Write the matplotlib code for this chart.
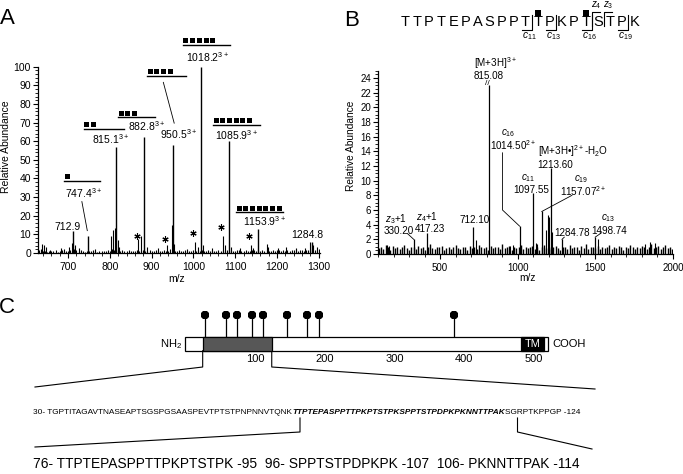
import matplotlib
matplotlib.use("Agg")
import matplotlib.pyplot as plt
from matplotlib.ticker import MultipleLocator
from matplotlib.patches import Rectangle
from matplotlib import font_manager

plt.rcParams['font.family'] = ['Liberation Sans', 'DejaVu Sans']
plt.rcParams['mathtext.fontset'] = 'custom'
plt.rcParams['mathtext.rm'] = 'Liberation Sans'
plt.rcParams['mathtext.it'] = 'Liberation Sans:italic'
plt.rcParams['mathtext.bf'] = 'Liberation Sans:bold'

# ---------------- data ----------------
# panel A : labelled peaks
a_mz = [712.9, 747.4, 815.1, 882.8, 950.5, 1018.2, 1085.9, 1153.9, 1284.8]
a_int = [12, 9, 57, 62.5, 58, 100, 60, 13, 6]
# glycoform ions (number of HexNAc squares)
a_gly_mz = [747.4, 815.1, 882.8, 950.5, 1018.2, 1085.9, 1153.9]
a_gly_n = [1, 2, 3, 4, 5, 6, 7]
# other peaks
a_minor_mz = [637, 642, 646, 657, 682, 691, 703, 709, 717, 727, 765, 803, 808, 812, 819, 823,
              868, 875, 888, 916, 936, 948, 954, 984, 1004, 1012, 1024, 1044, 1070, 1076, 1090,
              1112, 1137, 1142, 1176, 1179, 1202, 1222, 1246, 1266, 1279, 1283, 1287, 1295]
a_minor_int = [4.8, 4.1, 3.0, 1.6, 2.5, 2.2, 3.0, 5.2, 4.3, 2.5, 2.0, 9.1, 12.4, 13.3, 7.0, 3.4,
               7.3, 9.1, 3.0, 2.5, 4.3, 15.0, 5.0, 2.0, 6.1, 3.4, 4.3, 2.5, 9.1, 4.3, 3.4,
               2.5, 4.3, 2.5, 4.8, 3.4, 2.5, 3.4, 2.5, 2.5, 6.1, 5.5, 4.3, 3.0]
# baseline noise, one value every 5 m/z from 630
a_noise_start, a_noise_step = 630, 5
a_noise = [1.5, 2.0, 1.2, 1.0, 0.8, 1.3, 0.9, 1.1, 1.4, 0.8, 1.0, 1.6, 0.9, 1.2, 1.0,
           1.8, 1.1, 2.2, 1.4, 0.9, 1.5, 1.2, 0.8, 1.3, 1.0, 0.9, 1.4, 1.1, 0.8, 1.2,
           1.0, 1.3, 0.9, 1.5, 1.1, 2.0, 1.6, 1.8, 1.2, 1.0, 1.4, 0.9, 1.1, 1.5, 1.0,
           1.2, 0.9, 1.6, 1.3, 1.1, 1.8, 1.2, 1.0, 1.4, 0.9, 1.2, 1.5, 1.0, 1.3, 1.1,
           1.4, 1.0, 1.2, 1.9, 1.5, 1.1, 1.3, 1.6, 1.0, 1.2, 1.4, 0.9, 1.3, 1.1, 1.5,
           1.2, 1.6, 1.0, 1.8, 1.3, 1.1, 1.5, 1.2, 1.4, 1.0, 1.3, 1.7, 1.1, 1.4, 1.2,
           1.5, 1.1, 1.6, 1.3, 1.0, 1.4, 1.8, 1.2, 1.1, 1.5, 1.3, 1.0, 1.4, 1.6, 1.2,
           1.4, 1.1, 1.7, 1.2, 1.5, 1.0, 1.3, 1.6, 1.2, 1.4, 1.8, 1.1, 1.5, 1.3, 1.7,
           1.2, 1.6, 1.4, 1.9, 1.3, 1.5, 1.7, 1.2, 1.8, 1.4, 1.6, 2.0, 1.5, 1.8, 2.2]

# panel B : labelled peaks
b_mz = [330.20, 417.23, 712.10, 815.08, 1014.50, 1097.55, 1157.07, 1213.60, 1284.78, 1498.74]
b_int = [2.0, 2.8, 3.7, 23.0, 3.8, 8.3, 5.8, 11.7, 2.0, 2.3]
b_minor_mz = [160, 171, 730, 947, 968, 1117, 1127, 1180, 1195, 1203, 1222, 1520, 1819, 1851, 1883]
b_minor_int = [1.2, 1.1, 1.9, 1.1, 1.2, 1.5, 1.4, 3.3, 5.3, 5.0, 3.0, 2.0, 1.4, 1.6, 1.5]
b_noise_start, b_noise_step = 105, 15
b_noise = [0.8, 1.0, 0.7, 1.2, 0.9, 0.6, 1.1, 0.8, 1.0, 0.7, 0.9, 1.2, 0.8, 0.6, 1.0, 0.9,
           0.7, 1.1, 0.8, 1.0, 0.6, 0.9, 1.3, 0.8, 0.7, 1.0, 0.9, 1.1, 0.6, 0.8, 1.0, 0.7,
           0.9, 1.2, 0.8, 0.7, 1.0, 0.9, 0.6, 1.1, 0.8, 1.0, 0.7, 1.2, 0.9, 0.8, 1.0, 0.6,
           1.1, 0.8, 0.9, 1.0, 0.7, 1.3, 0.8, 0.9, 1.1, 0.6, 1.0, 0.8, 0.9, 1.2, 0.7, 1.0,
           0.8, 0.9, 1.1, 0.7, 1.0, 0.6, 0.9, 1.2, 0.8, 1.0, 0.7, 0.9, 1.1, 0.8, 0.6, 1.0,
           0.9, 0.7, 1.2, 0.8, 1.0, 0.9, 0.6, 1.1, 0.8, 1.3, 0.7, 1.0, 0.9, 0.8, 1.1, 0.7,
           1.0, 0.8, 0.9, 1.2, 0.7, 1.0, 0.8, 1.1, 0.9, 0.6, 1.0, 0.8, 1.2, 0.9, 0.7, 1.0,
           0.8, 1.1, 0.9, 0.7, 1.0, 1.4, 0.8, 0.9, 1.1, 0.7, 1.0, 1.2, 0.8, 0.9, 0.7]

# peptide of panel B
pep = "TTPTEPASPPTTPKPTSTPK"
pep_c = [11, 13, 16, 19]
pep_z = [4, 3]
pep_gly = [12, 16]

# panel C : protein scheme (residues)
prot_len = 520
prot_domain = (25, 124)
prot_tm = (481, 514)
prot_sites = [28, 58, 74, 95, 112, 146, 174, 192, 385]
prot_ticks = [100, 200, 300, 400, 500]
seq_pre = "30- TGPTITAGAVTNASEAPTSGSPGSAASPEVTPTSTPNPNNVTQNK"
seq_bold = "TTPTEPASPPTTPKPTSTPKSPPTSTPDPKPKNNTTPAK"
seq_post = "SGRPTKPPGP -124"
peptides = "76- TTPTEPASPPTTPKPTSTPK -95  96- SPPTSTPDPKPK -107  106- PKNNTTPAK -114"

# ---------------- figure ----------------
W, H = 683, 474
fig = plt.figure(figsize=(W / 100, H / 100), dpi=100)


def fbox(l, t, r, b):
    return [l / W, 1 - b / H, (r - l) / W, (b - t) / H]


def has_font(name):
    try:
        font_manager.findfont(name, fallback_to_default=False)
        return True
    except ValueError:
        return False


narrow = 'Liberation Sans Narrow' if has_font('Liberation Sans Narrow') else 'Liberation Sans'

axA = fig.add_axes(fbox(38, 66.7, 320, 253))
axB = fig.add_axes(fbox(378, 70.7, 673, 254))
ovl = fig.add_axes([0, 0, 1, 1])
ovl.set_xlim(0, W)
ovl.set_ylim(H, 0)
ovl.axis('off')

for ax in (axA, axB):
    for s in ('top', 'right'):
        ax.spines[s].set_visible(False)
    for s in ('left', 'bottom'):
        ax.spines[s].set_linewidth(0.9)
    ax.tick_params(which='major', length=3.5, width=0.8, labelsize=7.5, pad=1.5)
    ax.tick_params(which='minor', length=2, width=0.6)
    ax.tick_params(axis='x', pad=3)

# ---- A ----
axA.set_xlim(628, 1303)
axA.set_ylim(0, 100)
axA.xaxis.set_major_locator(MultipleLocator(100))
axA.xaxis.set_minor_locator(MultipleLocator(20))
axA.yaxis.set_major_locator(MultipleLocator(10))
axA.yaxis.set_minor_locator(MultipleLocator(2))
noise_x = [a_noise_start + a_noise_step * i for i in range(len(a_noise))]
axA.vlines(noise_x, 0, a_noise, color='k', lw=0.8)
axA.vlines(a_minor_mz, 0, a_minor_int, color='k', lw=0.8)
axA.vlines(a_mz, 0, a_int, color='k', lw=1.0)

TA = dict(fontsize=7.5, clip_on=False)
# glycoform labels: (label left, label y, bar left, bar right, bar y)
a_lab = {
    747.4: (693, 32.0, 691, 777, 38.9),
    815.1: (758, 61.3, 737, 834, 66.7),
    882.8: (844, 68.3, 820, 908, 73.0),
    950.5: (920, 64.0, 889, 983, 95.2),
    1018.2: (983, 105.4, 975, 1088, 111.8),
    1085.9: (1052, 63.4, 1047, 1160, 68.8),
    1153.9: (1119, 17.2, 1102, 1215, 21.9),
}
sq_pitch = 16.0
for mz, n in zip(a_gly_mz, a_gly_n):
    lx, ly, bl, br, by = a_lab[mz]
    axA.text(lx, ly, f"{mz:.1f}$^{{3+}}$", ha='left', va='center', **TA)
    axA.plot([bl, br], [by, by], color='k', lw=1.0, clip_on=False)
    xs = [bl + 6 + sq_pitch * k for k in range(n)]
    axA.plot(xs, [by + 2.4] * n, 's', color='k', ms=3.6, mew=0, clip_on=False)
axA.plot([928, 954], [91.6, 69.7], color='k', lw=0.6, clip_on=False)
axA.plot([733, 746], [27.6, 12.0], color='k', lw=0.6, clip_on=False)
axA.text(699, 14.0, "712.9", ha='center', va='center', **TA)
axA.text(1273, 9.7, "1284.8", ha='center', va='center', **TA)
axA.plot([866, 932, 1000, 1066, 1132], [9.1, 7.4, 10.9, 13.8, 9.1], ls='none',
         marker=(6, 2, 0), ms=4.5, mew=0.8, color='k', clip_on=False)

# ---- B ----
axB.set_xlim(100, 2000)
axB.set_ylim(0, 25)
axB.xaxis.set_major_locator(MultipleLocator(500))
axB.xaxis.set_minor_locator(MultipleLocator(100))
axB.yaxis.set_major_locator(MultipleLocator(2))
axB.yaxis.set_minor_locator(MultipleLocator(0.5))
axB.tick_params(labelsize=7)
noise_x = [b_noise_start + b_noise_step * i for i in range(len(b_noise))]
axB.vlines(noise_x, 0, b_noise, color='k', lw=1.0)
axB.vlines(b_minor_mz, 0, b_minor_int, color='k', lw=0.8)
axB.vlines(b_mz, 0, b_int, color='k', lw=0.9)

TB = dict(fontsize=7.1, clip_on=False)
axB.text(717, 26.1, "[M+3H]$^{3+}$", ha='left', va='center', **TB)
axB.text(717, 24.3, "815.08", ha='left', va='center', **TB)
axB.text(806, 23.3, "//", ha='center', va='center', fontsize=6, clip_on=False)
axB.text(940, 16.5, "$c_{16}$", ha='center', va='center', **TB)
axB.text(819, 14.9, "1014.50$^{2+}$", ha='left', va='center', **TB)
axB.plot([902, 902, 1012], [13.8, 6.0, 3.8], color='k', lw=0.6)
axB.text(1132, 14.0, "[M+3H•]$^{2+}$-H$_2$O", ha='left', va='center', **TB)
axB.text(1240, 12.2, "1213.60", ha='center', va='center', **TB)
axB.text(1068, 10.3, "$c_{11}$", ha='center', va='center', **TB)
axB.text(1087, 8.7, "1097.55", ha='center', va='center', **TB)
axB.text(1406, 10.2, "$c_{19}$", ha='center', va='center', **TB)
axB.text(1272, 8.6, "1157.07$^{2+}$", ha='left', va='center', **TB)
axB.plot([1349, 1155], [8.0, 5.8], color='k', lw=0.6)
axB.text(1585, 4.9, "$c_{13}$", ha='center', va='center', **TB)
axB.text(1476, 3.1, "1498.74", ha='left', va='center', **TB)
axB.plot([1540, 1499], [2.9, 2.3], color='k', lw=0.6)
axB.text(1234, 2.9, "1284.78", ha='left', va='center', **TB)
axB.plot([1300, 1285], [2.3, 2.0], color='k', lw=0.6)
axB.text(219, 4.8, "$z_3$+1", ha='center', va='center', **TB)
axB.text(232, 3.2, "330.20", ha='center', va='center', **TB)
axB.plot([289, 330], [2.8, 2.0], color='k', lw=0.6)
axB.text(417, 5.0, "$z_4$+1", ha='center', va='center', **TB)
axB.text(433, 3.4, "417.23", ha='center', va='center', **TB)
axB.text(723, 4.6, "712.10", ha='center', va='center', **TB)

# axis labels / panel letters
fig.text(6.5 / W, 1 - 146.5 / H, "Relative Abundance", rotation=90, ha='center', va='center', fontsize=7.5)
fig.text(351 / W, 1 - 146 / H, "Relative Abundance", rotation=90, ha='center', va='center', fontsize=7.3)
fig.text(177 / W, 1 - 279 / H, "m/z", ha='center', va='center', fontsize=7.5)
fig.text(527 / W, 1 - 278 / H, "m/z", ha='center', va='center', fontsize=7.3)
for x, y, s in ((7.5, 18.5, "A"), (351.5, 20, "B"), (6.5, 307.5, "C")):
    fig.text(x / W, 1 - y / H, s, ha='center', va='center', fontsize=16)

# peptide sequence (B)
x0, step, base = 405, 12.06, 26
for i, ch in enumerate(pep):
    ovl.text(x0 + i * step, base, ch, ha='center', va='baseline', fontsize=10.5)
for n in pep_c:
    xb = x0 + (n - 0.5) * step
    ovl.plot([xb - 10, xb, xb], [30, 30, 15], color='k', lw=0.8)
    ovl.text(xb - 2.5, 36, f"$c_{{{n}}}$", ha='center', va='center', fontsize=7.3)
for n in pep_z:
    xb = x0 + (len(pep) - n - 0.5) * step
    ovl.plot([xb, xb, xb + 8], [26, 11.5, 11.5], color='k', lw=0.8)
    ovl.text(xb + 4, 5.2, f"$z_{{{n}}}$", ha='center', va='center', fontsize=7)
ovl.plot([x0 + (n - 1) * step for n in pep_gly], [13] * len(pep_gly), 's', color='k', ms=4.2, mew=0)

# ---- C ----
res0, px_per_res = 185.25, 0.6975
axC = fig.add_axes([0, 0, 1, 1])
axC.set_xlim(-res0 / px_per_res, (W - res0) / px_per_res)
axC.set_ylim(H, 0)
axC.axis('off')
bar_top, bar_bot = 336.7, 350.7
axC.add_patch(Rectangle((0, bar_top), prot_len, bar_bot - bar_top, fc='white', ec='k', lw=0.9, zorder=2))
axC.add_patch(Rectangle((prot_domain[0], bar_top), prot_domain[1] - prot_domain[0], bar_bot - bar_top,
                        fc='#575757', ec='k', lw=0.9, zorder=3))
axC.add_patch(Rectangle((prot_tm[0], bar_top), prot_tm[1] - prot_tm[0], bar_bot - bar_top,
                        fc='k', ec='k', lw=0.9, zorder=3))
axC.text(sum(prot_tm) / 2, (bar_top + bar_bot) / 2, "TM", color='white', ha='center', va='center', fontsize=8)
axC.vlines(prot_sites, 314.5, bar_top, color='k', lw=0.9, zorder=1)
axC.plot(prot_sites, [314.5] * len(prot_sites), '8', color='k', ms=6.5, mew=0)
for t in prot_ticks:
    axC.text(t, 359, str(t), ha='center', va='center', fontsize=8, family=narrow)
axC.text(-5, 344, "NH$_2$", ha='right', va='center', fontsize=8)
axC.text(prot_len + 7, 344, "COOH", ha='left', va='center', fontsize=8)

px2res = lambda p: (p - res0) / px_per_res
axC.plot([prot_domain[0], prot_domain[0], px2res(35)], [bar_bot, 367, 387], color='k', lw=0.8)
axC.plot([prot_domain[1], prot_domain[1], px2res(595)], [bar_bot, 367, 389], color='k', lw=0.8)

# sequence text, fitted to its width in the reference
fig.canvas.draw()
rend = fig.canvas.get_renderer()
seq_l, seq_r, seq_y = 33, 582, 412
fs = 6
parts = [(seq_pre, 'normal', 'normal'), (seq_bold, 'bold', 'italic'), (seq_post, 'normal', 'normal')]
tmp = [ovl.text(0, seq_y, s, fontsize=fs, family=narrow, weight=w, style=st) for s, w, st in parts]
tot = sum(t.get_window_extent(rend).width for t in tmp)
for t in tmp:
    t.remove()
fs = fs * (seq_r - seq_l) / tot
x = seq_l
for s, w, st in parts:
    t = ovl.text(x, seq_y, s, fontsize=fs, family=narrow, weight=w, style=st, ha='left', va='center')
    x += t.get_window_extent(rend).width

ovl.plot([300, 300, 35], [418, 432, 447], color='k', lw=0.8)
ovl.plot([517.5, 517.5, 592], [418, 432, 449], color='k', lw=0.8)

t = ovl.text(33, 464, peptides, fontsize=10, family=narrow, ha='left', va='center')
wd = t.get_window_extent(rend).width
t.set_fontsize(10 * (581 - 33) / wd)

fig.savefig("out.png", dpi=100)
